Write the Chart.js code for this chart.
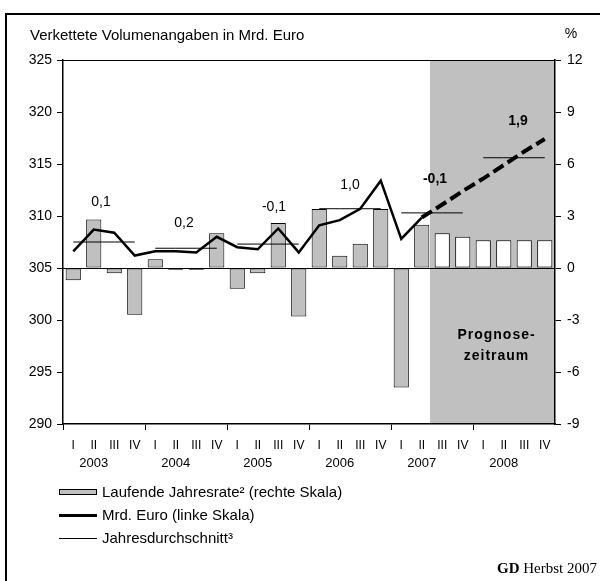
<!DOCTYPE html>
<html>
<head>
<meta charset="utf-8">
<script src="https://cdn.jsdelivr.net/npm/chart.js@4.4.0/dist/chart.umd.min.js"></script>
<style>
  html, body { margin: 0; padding: 0; background: #fff; }
  canvas { display: block; }
</style>
</head>
<body>
<canvas id="myChart" width="600" height="581"></canvas>
<script>
// data
const years = ['2003', '2004', '2005', '2006', '2007', '2008'];
const quarters = ['I', 'II', 'III', 'IV'];
// Laufende Jahresrate in % (rechte Skala)
const rate = [-0.7, 2.8, -0.3, -2.7, 0.5, -0.1, -0.1, 2.0, -1.2, -0.3, 2.6, -2.8,
              3.4, 0.7, 1.4, 3.4, -6.9, 2.5, 2.0, 1.8, 1.6, 1.6, 1.6, 1.6];
// Mrd. Euro (linke Skala), 2003 I bis 2007 II
const volume = [306.6, 308.7, 308.4, 306.2, 306.6, 306.6, 306.5, 308.0, 307.0, 306.8, 308.8, 306.5,
                309.1, 309.6, 310.7, 313.4, 307.8, 309.85];
// Prognose, 2007 II bis 2008 IV
const volumeForecast = [309.85, 311.1, 312.4, 313.6, 314.9, 316.2, 317.4];
const yearAvg = [307.5, 306.9, 307.3, 310.7, 310.3, 315.6];
const yearAvgLabels = ['0,1', '0,2', '-0,1', '1,0', '-0,1', '1,9'];
const firstForecast = 18; // 2007 III

const FONT = '"Liberation Sans", Arial, sans-serif';
const GRAY = '#c0c0c0';

// build the category list and the full series
const labels = [];
years.forEach(() => quarters.forEach(q => labels.push(q)));
const volFull = labels.map((_, i) => i < volume.length ? volume[i] : null);
const fcStart = volume.length - 1;
const fcFull = labels.map((_, i) => i >= fcStart ? volumeForecast[i - fcStart] : null);

const avgSets = yearAvg.map((v, k) => ({
  type: 'line',
  yAxisID: 'y',
  data: labels.map((_, i) => Math.floor(i / 4) === k ? v : null),
  borderColor: '#000',
  borderWidth: 1,
  pointRadius: 0,
  order: 2
}));

// label nudges for the yearly numbers (px: dx, height above the line)
const labelShift = [[-3, 40], [-2, 25], [6, 37], [0, 24], [3, 34], [4, 37]];

const decor = {
  id: 'decor',
  beforeDraw(chart) {
    const { ctx, chartArea: a, scales } = chart;
    ctx.save();
    ctx.fillStyle = '#fff';
    ctx.fillRect(0, 0, chart.width, chart.height);
    // Prognosezeitraum
    const x0 = scales.x.getPixelForValue(firstForecast - 0.5) - 2;
    ctx.fillStyle = GRAY;
    ctx.fillRect(x0, a.top, a.right - x0, a.bottom - a.top);
    ctx.restore();
  },
  afterDraw(chart) {
    const { ctx, chartArea: a, scales } = chart;
    const xs = scales.x, ys = scales.y;
    ctx.save();
    // top border of plot
    ctx.strokeStyle = '#000';
    ctx.lineWidth = 1;
    ctx.beginPath();
    ctx.moveTo(a.left, a.top + 0.5);
    ctx.lineTo(a.right, a.top + 0.5);
    ctx.stroke();
    // outer frame
    ctx.lineWidth = 2;
    ctx.strokeRect(6, 14, 700, 700);

    ctx.fillStyle = '#000';
    ctx.textBaseline = 'middle';
    ctx.font = '15px ' + FONT;
    ctx.textAlign = 'left';
    ctx.fillText('Verkettete Volumenangaben in Mrd. Euro', 30, 36);
    ctx.textAlign = 'center';
    ctx.font = '14px ' + FONT;
    ctx.fillText('%', 571, 34);

    // years under the quarters
    ctx.font = '13px ' + FONT;
    years.forEach((y, k) => ctx.fillText(y, xs.getPixelForValue(k * 4 + 1), 463));

    // yearly average labels
    yearAvgLabels.forEach((t, k) => {
      const bold = k * 4 >= firstForecast - 2;
      ctx.font = (bold ? 'bold ' : '') + '14px ' + FONT;
      const x = xs.getPixelForValue(k * 4 + 1.5) + labelShift[k][0];
      const y = ys.getPixelForValue(yearAvg[k]) - labelShift[k][1];
      ctx.fillText(t, x, y);
    });

    // Prognose text
    const x0 = xs.getPixelForValue(firstForecast - 0.5) - 2;
    const cx = (x0 + a.right) / 2 + 4;
    ctx.font = 'bold 14px ' + FONT;
    ctx.letterSpacing = '1px';
    ctx.fillText('Prognose-', cx, 335);
    ctx.fillText('zeitraum', cx, 356);
    ctx.letterSpacing = '0px';

    // legend
    ctx.font = '15px ' + FONT;
    ctx.textAlign = 'left';
    ctx.fillStyle = GRAY;
    ctx.fillRect(59.5, 489.5, 37, 5);
    ctx.lineWidth = 1;
    ctx.strokeRect(59.5, 489.5, 37, 5);
    ctx.fillStyle = '#000';
    ctx.fillText('Laufende Jahresrate² (rechte Skala)', 102, 493);
    ctx.lineWidth = 3;
    ctx.beginPath(); ctx.moveTo(59, 515.5); ctx.lineTo(97, 515.5); ctx.stroke();
    ctx.fillText('Mrd. Euro (linke Skala)', 102, 516);
    ctx.lineWidth = 1;
    ctx.beginPath(); ctx.moveTo(59, 538.5); ctx.lineTo(97, 538.5); ctx.stroke();
    ctx.fillText('Jahresdurchschnitt³', 102, 539);

    // source
    ctx.textAlign = 'right';
    ctx.font = '15px "Liberation Serif", "Times New Roman", serif';
    const w = ctx.measureText('Herbst 2007').width;
    ctx.fillText('Herbst 2007', 597, 569);
    ctx.font = 'bold 15px "Liberation Serif", "Times New Roman", serif';
    ctx.fillText('GD ', 597 - w, 569);
    ctx.restore();
  }
};

const ctx = document.getElementById('myChart');
new Chart(ctx, {
  type: 'bar',
  data: {
    labels: labels,
    datasets: [
      {
        type: 'line',
        yAxisID: 'y',
        data: volFull,
        borderColor: '#000',
        borderWidth: 2.5,
        pointRadius: 0,
        order: 1
      },
      {
        type: 'line',
        yAxisID: 'y',
        data: fcFull,
        borderColor: '#000',
        borderWidth: 4,
        borderDash: [12, 5],
        pointRadius: 0,
        order: 1
      },
      ...avgSets,
      {
        type: 'bar',
        yAxisID: 'y2',
        data: rate,
        backgroundColor: rate.map((_, i) => i >= firstForecast ? '#fff' : GRAY),
        borderColor: '#000',
        borderWidth: 1,
        borderSkipped: false,
        barPercentage: 0.74,
        categoryPercentage: 1,
        order: 10
      }
    ]
  },
  options: {
    responsive: false,
    animation: false,
    layout: { padding: { top: 60, left: 0, right: 0, bottom: 0 } },
    plugins: { legend: { display: false }, tooltip: { enabled: false } },
    scales: {
      x: {
        offset: true,
        grid: {
          offset: true,
          drawOnChartArea: false,
          color: c => c.index % 4 === 0 ? '#000' : 'rgba(0,0,0,0)',
          tickLength: 6
        },
        border: { color: '#000', width: 1.5 },
        ticks: { color: '#000', font: { family: FONT, size: 12 }, padding: 8, maxRotation: 0, autoSkip: false },
        afterFit: s => { s.height = 157; }
      },
      y: {
        position: 'left',
        min: 290,
        max: 325,
        ticks: { stepSize: 5, color: '#000', font: { family: FONT, size: 14 }, padding: 5 },
        grid: { drawOnChartArea: false, color: '#000', tickLength: 6 },
        border: { color: '#000', width: 1.5 },
        afterFit: s => { s.width = 63; }
      },
      y2: {
        position: 'right',
        min: -9,
        max: 12,
        ticks: { stepSize: 3, color: '#000', font: { family: FONT, size: 14 }, padding: 6 },
        grid: {
          color: c => c.tick && c.tick.value === 0 ? '#000' : 'rgba(0,0,0,0)',
          tickColor: '#000',
          tickLength: 6
        },
        border: { color: '#000', width: 1.5 },
        afterFit: s => { s.width = 45; }
      }
    }
  },
  plugins: [decor]
});
</script>
</body>
</html>
